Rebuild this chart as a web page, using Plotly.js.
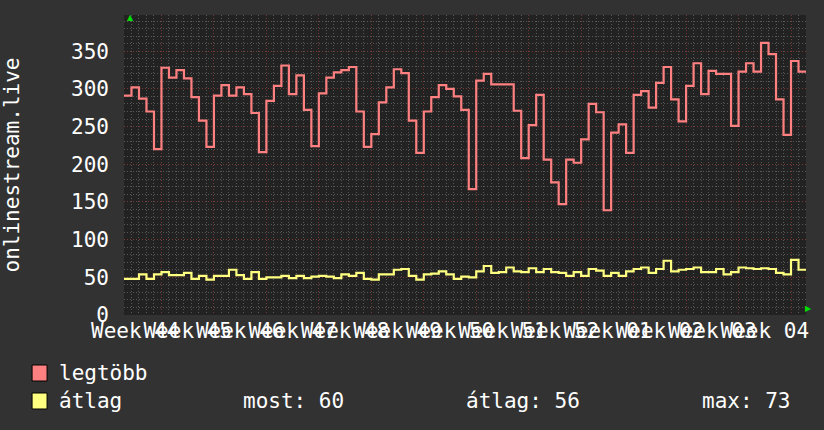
<!DOCTYPE html>
<html><head><meta charset="utf-8">
<script src="https://cdn.plot.ly/plotly-3.0.1.min.js"></script>
<style>html,body{margin:0;padding:0;background:#323232;} #chart{width:824px;height:430px;}</style>
</head><body><div id="chart"></div>
<script>
// ---- data ----
const startDate = '2023-11-01';
const endDate = '2024-01-31';
const maxValues = [291,302,287,270,220,328,315,325,314,289,258,223,291,305,291,302,293,268,216,284,304,331,293,318,272,224,294,315,322,325,329,270,223,240,282,302,326,321,258,215,270,289,305,300,290,272,167,311,320,306,306,306,271,208,252,292,206,176,147,206,202,233,280,269,139,242,253,215,292,297,275,308,329,286,257,304,334,293,324,320,320,251,323,334,323,361,346,286,239,337,323];
const avgValues = [48,48,54,48,54,57,53,53,56,48,52,47,52,52,60,53,48,57,48,50,50,52,49,52,49,51,52,51,49,54,52,56,48,47,54,54,60,61,52,47,54,55,58,54,48,51,50,58,65,56,57,63,58,57,62,57,61,57,56,52,57,52,61,59,52,56,52,58,61,63,56,61,72,58,60,61,63,57,57,61,54,57,63,62,61,62,61,56,54,73,60];
const seriesNames = ['legtöbb', 'átlag'];
const seriesColors = ['#ff8080', '#ffff80'];
const statLabels = ['most: 60', 'átlag: 56', 'max: 73'];
const yTitle = 'onlinestream.live';
const weekTickStart = '2023-10-30';

// ---- build ----
const DAY = 86400000;
function dates(n) {
  const t0 = Date.parse(startDate + 'T00:00:00Z');
  const out = [];
  for (let i = 0; i <= n; i++) out.push(new Date(t0 + i * DAY).toISOString().slice(0, 10));
  return out;
}
function stepSeries(vals) { return vals.concat([vals[vals.length - 1]]); }

const FONT = 'DejaVu Sans Mono';
const L = 124, R = 17.5, T = 15, B = 115, W = 824, H = 430;
const PW = W - L - R, PH = H - T - B;
const px = x => (x - L) / PW;
const py = y => (H - B - y) / PH;

const traces = [maxValues, avgValues].map((v, i) => ({
  type: 'scatter', mode: 'lines', name: seriesNames[i],
  x: dates(v.length), y: stepSeries(v),
  line: {shape: 'hv', color: seriesColors[i], width: 2.2},
  showlegend: false, hoverinfo: 'skip'
}));

const gridMajor = 'rgba(170,70,70,0.65)';
const gridMinor = 'rgba(140,140,140,0.5)';

const annotations = [
  {text: seriesNames[0], x: px(57), y: py(373), xanchor: 'left'},
  {text: seriesNames[1], x: px(57), y: py(401), xanchor: 'left'},
  {text: statLabels[0], x: px(241), y: py(401), xanchor: 'left'},
  {text: statLabels[1], x: px(464), y: py(401), xanchor: 'left'},
  {text: statLabels[2], x: px(700), y: py(401), xanchor: 'left'}
].map(a => Object.assign({xref: 'paper', yref: 'paper', yanchor: 'middle', showarrow: false,
  font: {family: FONT, size: 21, color: '#ffffff'}}, a));
annotations.push({text: '▲', xref: 'paper', yref: 'paper', x: px(125), y: py(11), showarrow: false,
  font: {family: 'DejaVu Sans', size: 8, color: '#00dd00'}});
annotations.push({text: '▶', xref: 'paper', yref: 'paper', x: px(815), y: py(315), showarrow: false,
  font: {family: 'DejaVu Sans', size: 8, color: '#00dd00'}});

const shapes = [365, 393].map((y, i) => ({
  type: 'rect', xref: 'paper', yref: 'paper',
  x0: px(32), x1: px(47), y0: py(y + 16), y1: py(y),
  fillcolor: seriesColors[i], line: {color: '#000000', width: 1}
}));

const layout = {
  width: W, height: H,
  margin: {l: L, r: R, t: T, b: B},
  paper_bgcolor: '#323232', plot_bgcolor: '#222222',
  showlegend: false,
  xaxis: {
    type: 'date', range: [startDate, endDate],
    tickmode: 'linear', tick0: weekTickStart, dtick: 7 * DAY,
    ticklabelmode: 'period', tickformat: 'Week %V', tickangle: 0,
    ticks: '', ticklabelstandoff: 1,
    tickfont: {family: FONT, size: 21, color: '#ffffff'},
    showgrid: true, gridcolor: gridMajor, griddash: '1px,2px', gridwidth: 1,
    minor: {tick0: weekTickStart, dtick: DAY, showgrid: true, gridcolor: gridMinor, griddash: '1px,2px', gridwidth: 1},
    zeroline: false, showline: false, fixedrange: true
  },
  yaxis: {
    range: [0, 398], tickmode: 'linear', tick0: 0, dtick: 50,
    ticks: '', ticklabelstandoff: 14,
    tickfont: {family: FONT, size: 21, color: '#ffffff'},
    showgrid: true, gridcolor: gridMajor, griddash: '1px,2px', gridwidth: 1,
    minor: {tick0: 0, dtick: 10, showgrid: true, gridcolor: gridMinor, griddash: '1px,2px', gridwidth: 1},
    zeroline: false, showline: false, fixedrange: true,
    title: {text: yTitle, font: {family: FONT, size: 21, color: '#ffffff'}, standoff: 45}
  },
  annotations: annotations,
  shapes: shapes
};

Plotly.newPlot('chart', traces, layout, {displayModeBar: false, staticPlot: true});
</script>
</body></html>
